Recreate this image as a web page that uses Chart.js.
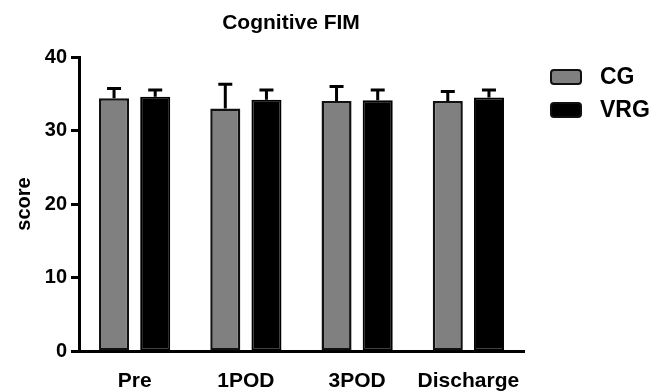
<!DOCTYPE html>
<html>
<head>
<meta charset="utf-8">
<script src="https://cdn.jsdelivr.net/npm/chart.js@4/dist/chart.umd.min.js"></script>
<style>
  html, body { margin: 0; padding: 0; background: #fff; }
  #wrap { width: 665px; height: 391px; position: relative; }
</style>
</head>
<body>
<div id="wrap"><canvas id="chart"></canvas></div>
<script>
const categories = ["Pre", "1POD", "3POD", "Discharge"];
const cgMean = [34.4, 33.0, 34.0, 34.0];
const cgErr = [1.3, 3.3, 2.0, 1.3];
const vrgMean = [34.6, 34.2, 34.1, 34.5];
const vrgErr = [0.9, 1.3, 1.4, 1.0];
const seriesNames = ["CG", "VRG"];
const yMin = 0, yMax = 40, yStep = 10;

const FONT = "'Liberation Sans', Arial, sans-serif";

// upper error bars, drawn on top of the bars
const errorBars = {
    id: "errorBars",
    afterDatasetsDraw(chart) {
        const ctx = chart.ctx;
        const yScale = chart.scales.y;
        chart.data.datasets.forEach((ds, i) => {
            const meta = chart.getDatasetMeta(i);
            meta.data.forEach((bar, j) => {
                const top = yScale.getPixelForValue(ds.data[j] + ds.errors[j]);
                ctx.save();
                ctx.strokeStyle = "#000";
                ctx.lineWidth = 3;
                ctx.beginPath();
                ctx.moveTo(bar.x, bar.y);
                ctx.lineTo(bar.x, top);
                ctx.moveTo(bar.x - 7, top);
                ctx.lineTo(bar.x + 7, top);
                ctx.stroke();
                ctx.restore();
            });
        });
    }
};

// title + legend in the same spots as the reference
const decorations = {
    id: "decorations",
    afterDraw(chart) {
        const ctx = chart.ctx;
        ctx.save();
        ctx.fillStyle = "#000";
        ctx.font = "bold 21px " + FONT;
        ctx.textAlign = "center";
        ctx.textBaseline = "middle";
        ctx.fillText("Cognitive FIM", 291, 23);

        chart.data.datasets.forEach((ds, i) => {
            const bx = 550, by = 69 + i * 33;
            ctx.beginPath();
            ctx.roundRect(bx + 1, by + 1, 30, 14, 3);
            ctx.fillStyle = ds.backgroundColor;
            ctx.fill();
            ctx.lineWidth = 2;
            ctx.strokeStyle = "#111";
            ctx.stroke();
            ctx.fillStyle = "#000";
            ctx.font = "bold 23px " + FONT;
            ctx.textAlign = "left";
            ctx.fillText(ds.label, 600, by + 9);
        });
        ctx.restore();
    }
};

new Chart(document.getElementById("chart"), {
    type: "bar",
    data: {
        labels: categories,
        datasets: [
            {
                label: seriesNames[0],
                data: cgMean,
                errors: cgErr,
                backgroundColor: "#808080",
                borderColor: "#111",
                borderWidth: 2.5,
                borderSkipped: false,
            },
            {
                label: seriesNames[1],
                data: vrgMean,
                errors: vrgErr,
                backgroundColor: "#000",
                borderColor: "#000",
                borderWidth: 2,
                borderSkipped: false,
            },
        ],
    },
    options: {
        responsive: true,
        maintainAspectRatio: false,
        animation: false,
        categoryPercentage: 0.74,
        barPercentage: 0.73,
        layout: { padding: { top: 57, right: 141, left: 0, bottom: 0 } },
        plugins: {
            legend: { display: false },
            title: { display: false },
            tooltip: { enabled: false },
        },
        scales: {
            x: {
                grid: { display: false },
                border: { color: "#000", width: 3 },
                ticks: {
                    color: "#000",
                    padding: 10,
                    font: { family: FONT, size: 21, weight: "bold" },
                },
                afterFit(s) { s.height = 40; },
            },
            y: {
                min: yMin,
                max: yMax,
                border: { color: "#000", width: 3 },
                grid: {
                    drawOnChartArea: false,
                    drawTicks: true,
                    tickLength: 8,
                    tickWidth: 3,
                    tickColor: "#000",
                },
                ticks: {
                    stepSize: yStep,
                    color: "#000",
                    padding: 4,
                    font: { family: FONT, size: 20, weight: "bold" },
                },
                title: {
                    display: true,
                    text: "score",
                    color: "#000",
                    padding: { top: 12, bottom: 0 },
                    font: { family: FONT, size: 20, weight: "bold" },
                },
                afterFit(s) { s.width = 79; },
            },
        },
    },
    plugins: [errorBars, decorations],
});
</script>
</body>
</html>
